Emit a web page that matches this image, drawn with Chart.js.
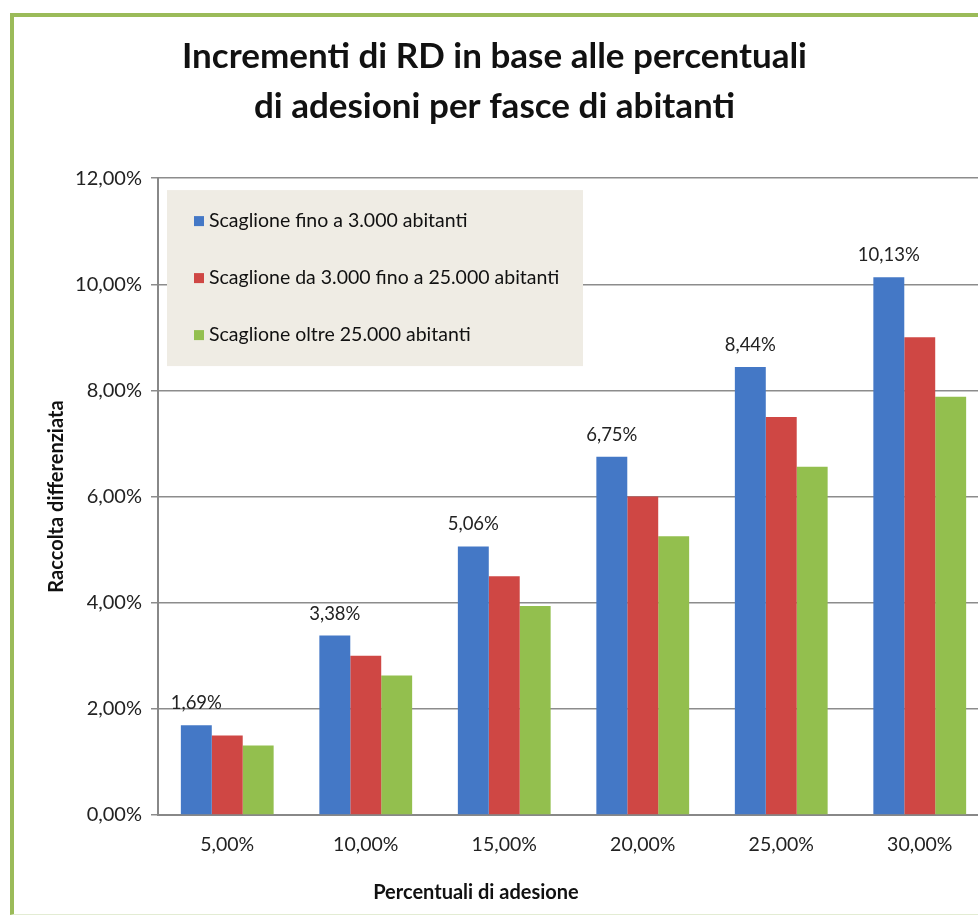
<!DOCTYPE html>
<html>
<head>
<meta charset="utf-8">
<script src="https://cdn.jsdelivr.net/npm/chart.js@4.4.1/dist/chart.umd.min.js"></script>
<style>
  html, body { margin: 0; padding: 0; background: #fff; overflow: hidden; }
  #wrap { position: relative; width: 978px; height: 917px; overflow: hidden; }
  #chart { position: absolute; left: 0; top: 0; }
  #frame {
    position: absolute; left: 10px; top: 13px; width: 1000px; height: 897px;
    border-left: 4px solid #9bbb59; border-top: 4px solid #9bbb59;
    border-bottom: 1px solid #e3ecd3; pointer-events: none;
  }
</style>
</head>
<body>
<div id="wrap">
  <canvas id="chart" width="992" height="917"></canvas>
  <div id="frame"></div>
</div>
<script>
// Data
const categories = ['5,00%', '10,00%', '15,00%', '20,00%', '25,00%', '30,00%'];
const seriesNames = [
  'Scaglione fino a 3.000 abitanti',
  'Scaglione da 3.000 fino a 25.000 abitanti',
  'Scaglione oltre 25.000 abitanti'
];
const upTo3000 = [1.69, 3.38, 5.06, 6.75, 8.44, 10.13];
const from3000to25000 = [1.50, 3.00, 4.50, 6.00, 7.50, 9.00];
const over25000 = [1.31, 2.63, 3.94, 5.25, 6.56, 7.88];
const seriesColors = ['#4478c6', '#cf4744', '#93bf4e'];
const xTitle = 'Percentuali di adesione';

const FONT = 'Lato, "Open Sans", sans-serif';

function pct(v) {
  return v.toFixed(2).replace('.', ',') + '%';
}

// legend box drawn inside the plot area, over the grid
const innerLegend = {
  id: 'innerLegend',
  beforeDatasetsDraw(chart) {
    const ctx = chart.ctx;
    const a = chart.chartArea;
    const x = a.left + 9, y = a.top + 12;
    ctx.save();
    ctx.fillStyle = '#efece4';
    ctx.fillRect(x, y, 416, 176);
    ctx.font = '19.5px ' + FONT;
    ctx.textBaseline = 'middle';
    chart.data.datasets.forEach((ds, i) => {
      const cy = y + 31 + i * 57;
      ctx.fillStyle = ds.backgroundColor;
      ctx.fillRect(x + 27, cy - 5, 10, 10);
      ctx.fillStyle = '#111';
      ctx.fillText(ds.label, x + 42, cy);
    });
    ctx.restore();
  }
};

// value labels over the first series only, plus the x axis title
// (the original centres it on the visible frame, not on the plot)
const extraText = {
  id: 'extraText',
  afterDatasetsDraw(chart) {
    const ctx = chart.ctx;
    const meta = chart.getDatasetMeta(0);
    ctx.save();
    ctx.font = '18.5px ' + FONT;
    ctx.fillStyle = '#222';
    ctx.textAlign = 'center';
    ctx.textBaseline = 'middle';
    meta.data.forEach((bar, i) => {
      ctx.fillText(pct(upTo3000[i]), bar.x, bar.y - 22);
    });
    ctx.font = 'bold 20px ' + FONT;
    ctx.fillStyle = '#111';
    ctx.fillText(xTitle, chart.chartArea.left + 318, chart.chartArea.bottom + 78);
    ctx.restore();
  }
};

new Chart(document.getElementById('chart'), {
  type: 'bar',
  data: {
    labels: categories,
    datasets: [
      { label: seriesNames[0], data: upTo3000, backgroundColor: seriesColors[0] },
      { label: seriesNames[1], data: from3000to25000, backgroundColor: seriesColors[1] },
      { label: seriesNames[2], data: over25000, backgroundColor: seriesColors[2] }
    ]
  },
  options: {
    responsive: false,
    animation: false,
    categoryPercentage: 0.67,
    barPercentage: 1.0,
    layout: { padding: { left: 0, right: 3, top: 0, bottom: 0 } },
    plugins: {
      legend: { display: false },
      tooltip: { enabled: false },
      title: {
        display: true,
        text: ['Incrementi di RD in base alle percentuali', 'di adesioni per fasce di abitanti'],
        color: '#111',
        font: { family: FONT, size: 35, weight: 'bold', lineHeight: 1.43 },
        padding: { top: 32, bottom: 46 }
      }
    },
    scales: {
      x: {
        grid: { display: false, drawTicks: false },
        border: { color: '#888', width: 2 },
        ticks: { color: '#222', font: { family: FONT, size: 19.5 }, padding: 18 },
        title: { display: false },
        afterFit(scale) { scale.height = 102; }
      },
      y: {
        min: 0,
        max: 12,
        ticks: {
          stepSize: 2,
          color: '#222',
          font: { family: FONT, size: 20 },
          padding: 9,
          callback: v => pct(v)
        },
        grid: { color: '#8c8c8c', lineWidth: 1.5, tickLength: 7 },
        border: { color: '#888', width: 2 },
        title: {
          display: true,
          text: 'Raccolta differenziata',
          color: '#111',
          font: { family: FONT, size: 20, weight: 'bold' },
          padding: { top: 45, bottom: 0 }
        },
        afterFit(scale) { scale.width = 158; }
      }
    }
  },
  plugins: [innerLegend, extraText]
});
</script>
</body>
</html>
